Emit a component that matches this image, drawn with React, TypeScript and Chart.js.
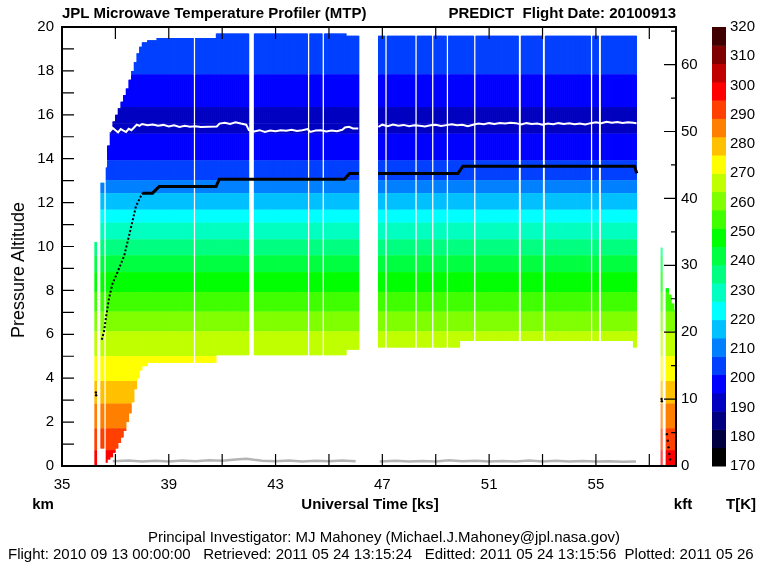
import React, { useEffect, useRef } from "react";
import { Chart, registerables } from "chart.js";

Chart.register(...registerables);

const FONT = "'Liberation Sans', Arial, Helvetica, sans-serif";

// ---- axes ----
const TIME_MIN = 35;
const TIME_MAX = 58;
const ALT_MIN = 0;
const ALT_MAX = 20;
const KM_PER_KFT = 0.3048;
const T_MIN = 170;
const T_MAX = 320;

const X_TICK_LABELS = [35, 39, 43, 47, 51, 55];
const X_TICK_MARKS = [37, 39, 41, 43, 45, 47, 49, 51, 53, 55, 57];
const KM_TICK_LABELS = [0, 2, 4, 6, 8, 10, 12, 14, 16, 18, 20];
const KM_TICK_MARKS = [1, 2, 3, 4, 5, 6, 7, 8, 9, 10, 11, 12, 13, 14, 15, 16, 17, 18, 19];
const KFT_TICK_LABELS = [0, 10, 20, 30, 40, 50, 60];
const KFT_TICK_MARKS = [5, 10, 15, 20, 25, 30, 35, 40, 45, 50, 55, 60, 65];
const T_TICK_LABELS = [170, 180, 190, 200, 210, 220, 230, 240, 250, 260, 270, 280, 290, 300, 310, 320];

// ---- colour scale (24 steps, 170 K .. 320 K) ----
const COLOR_STEPS = [
  "#000000", "#000040", "#000080", "#0000c0", "#0000ff", "#0040ff",
  "#0080ff", "#00c0ff", "#00ffff", "#00ffc0", "#00ff80", "#00ff40",
  "#00ff00", "#40ff00", "#80ff00", "#c0ff00", "#ffff00", "#ffc000",
  "#ff8000", "#ff4000", "#ff0000", "#c00000", "#800000", "#400000",
];

// ---- temperature profile: altitude [km] and temperature [K] ----
const PROFILE_ALT = [0, 0.72, 1.71, 2.84, 3.87, 5.0, 6.13, 7.03, 7.93, 8.83, 9.59, 10.32, 11.08, 11.67, 12.43, 13.02, 13.92, 15.14, 15.6, 16.35, 17.84, 20];
const PROFILE_T = [298, 295, 288.75, 282.5, 276.25, 270, 263.75, 257.5, 251.25, 245, 238.75, 232.5, 226.25, 220, 213.75, 207.5, 201.25, 195, 192.5, 195, 201.25, 204];

// ---- retrieval coverage: [start ks, end ks, bottom km, top km, pale] ----
const COVERAGE: [number, number, number, number, number][] = [
  [36.23, 36.31, 0.0, 10.2, 0],
  [36.46, 36.57, 0.8, 12.9, 0],
  [36.64, 36.70, 0.15, 13.6, 0],
  [36.70, 36.80, 0.3, 14.6, 0],
  [36.80, 36.90, 0.4, 15.3, 0],
  [36.90, 37.00, 0.6, 15.7, 0],
  [37.00, 37.10, 0.8, 16.0, 0],
  [37.10, 37.20, 1.05, 16.3, 0],
  [37.20, 37.30, 1.3, 16.6, 0],
  [37.30, 37.40, 1.6, 16.9, 0],
  [37.40, 37.50, 2.0, 17.2, 0],
  [37.50, 37.60, 2.4, 17.6, 0],
  [37.60, 37.70, 2.9, 18.0, 0],
  [37.70, 37.80, 3.5, 18.4, 0],
  [37.80, 37.90, 4.0, 18.8, 0],
  [37.90, 38.00, 4.35, 19.1, 0],
  [38.00, 38.20, 4.55, 19.3, 0],
  [38.20, 38.55, 4.7, 19.4, 0],
  [38.55, 40.77, 4.7, 19.5, 0],
  [40.77, 41.99, 5.05, 19.7, 0],
  [42.20, 45.65, 5.05, 19.7, 0],
  [45.65, 46.13, 5.3, 19.6, 0],
  [46.85, 49.90, 5.4, 19.6, 0],
  [49.90, 56.40, 5.7, 19.6, 0],
  [56.40, 56.53, 5.4, 19.6, 0],
  [57.43, 57.50, 0.0, 9.95, 1],
  [57.62, 57.72, 0.0, 8.1, 0],
  [57.72, 57.82, 0.0, 7.8, 0],
  [57.82, 57.92, 0.0, 7.4, 0],
  [57.92, 58.00, 0.0, 7.1, 0],
];

// ---- short data gaps [start ks, end ks] ----
const GAPS: [number, number][] = [
  [39.92, 39.99], [44.20, 44.28], [44.74, 44.82], [47.09, 47.17],
  [48.23, 48.31], [48.85, 48.93], [49.40, 49.48], [50.43, 50.51],
  [52.11, 52.19], [53.01, 53.09], [54.79, 54.87], [55.11, 55.19],
];

// ---- aircraft pressure altitude [ks, km] ----
const AIRCRAFT_ALT: [number, number | null][] = [
  [36.49, 5.75], [36.58, 6.16], [36.64, 6.7], [36.76, 7.63], [36.89, 8.3],
  [37.08, 8.83], [37.33, 9.58], [37.51, 10.48], [37.77, 11.83], [38.01, 12.43],
  [38.39, 12.43], [38.64, 12.73], [40.77, 12.73], [40.89, 13.06], [45.58, 13.06],
  [45.77, 13.33], [46.12, 13.33], [46.5, null], [46.84, 13.33], [49.83, 13.33],
  [50.02, 13.66], [56.45, 13.66], [56.53, 13.33],
];
const AIRCRAFT_EXTRA: [number, number][] = [
  [36.27, 3.35], [36.28, 3.22], [57.46, 3.05], [57.47, 2.95],
  [57.66, 1.45], [57.69, 1.15], [57.72, 0.85], [57.75, 0.55], [57.78, 0.3],
];

// ---- tropopause altitude [ks, km] ----
const TROPOPAUSE: [number, number | null][] = [
  [36.70, 15.35], [36.80, 15.25], [36.90, 15.40], [37.00, 15.30], [37.10, 15.20],
  [37.20, 15.35], [37.30, 15.28], [37.40, 15.22], [37.50, 15.36], [37.60, 15.30],
  [37.70, 15.42], [37.80, 15.55], [37.90, 15.50], [38.00, 15.58], [38.20, 15.52],
  [38.40, 15.56], [38.60, 15.50], [38.80, 15.54], [39.00, 15.47], [39.20, 15.52],
  [39.40, 15.45], [39.60, 15.50], [39.80, 15.46], [40.00, 15.48], [40.20, 15.44],
  [40.50, 15.46], [40.80, 15.47], [40.90, 15.60], [41.10, 15.64], [41.30, 15.58],
  [41.50, 15.66], [41.70, 15.60], [41.90, 15.55], [42.00, 15.30], [42.20, 15.24],
  [42.40, 15.30], [42.60, 15.22], [42.80, 15.28], [43.00, 15.25], [43.20, 15.30],
  [43.40, 15.27], [43.60, 15.32], [43.80, 15.26], [44.00, 15.30], [44.20, 15.35],
  [44.30, 15.22], [44.50, 15.28], [44.70, 15.30], [44.90, 15.24], [45.10, 15.28],
  [45.30, 15.25], [45.50, 15.32], [45.60, 15.42], [45.75, 15.45], [45.90, 15.38],
  [46.10, 15.38], [46.50, null],
  [46.85, 15.45], [47.00, 15.55], [47.20, 15.48], [47.40, 15.56], [47.60, 15.50],
  [47.80, 15.54], [48.00, 15.48], [48.20, 15.52], [48.40, 15.50], [48.60, 15.47],
  [48.80, 15.52], [49.00, 15.55], [49.20, 15.49], [49.40, 15.53], [49.60, 15.57],
  [49.80, 15.52], [50.00, 15.55], [50.20, 15.48], [50.40, 15.55], [50.60, 15.60],
  [50.80, 15.57], [51.00, 15.62], [51.20, 15.58], [51.40, 15.63], [51.60, 15.60],
  [51.80, 15.64], [52.00, 15.62], [52.20, 15.56], [52.40, 15.62], [52.60, 15.58],
  [52.80, 15.60], [53.00, 15.55], [53.20, 15.60], [53.40, 15.57], [53.60, 15.62],
  [53.80, 15.58], [54.00, 15.61], [54.20, 15.57], [54.40, 15.60], [54.60, 15.56],
  [54.80, 15.62], [55.00, 15.66], [55.20, 15.62], [55.40, 15.68], [55.60, 15.64],
  [55.80, 15.67], [56.00, 15.63], [56.20, 15.66], [56.40, 15.64], [56.52, 15.62],
];

// ---- ground altitude [ks, km] ----
const GROUND_ALT: [number, number | null][] = [
  [36.90, 0.22], [37.50, 0.25], [38.00, 0.20], [38.50, 0.24], [39.00, 0.21],
  [39.50, 0.25], [40.00, 0.22], [40.50, 0.26], [41.00, 0.24], [41.50, 0.30],
  [41.90, 0.33], [42.20, 0.28], [42.50, 0.24], [43.00, 0.22], [43.50, 0.25],
  [44.00, 0.21], [44.50, 0.24], [45.00, 0.22], [45.50, 0.25], [46.00, 0.22],
  [46.40, null], [46.90, 0.20], [47.50, 0.24], [48.00, 0.20], [48.50, 0.23],
  [49.00, 0.20], [49.50, 0.26], [50.00, 0.22], [50.50, 0.24], [51.00, 0.20],
  [51.50, 0.23], [52.00, 0.21], [52.50, 0.25], [53.00, 0.20], [53.50, 0.24],
  [54.00, 0.21], [54.50, 0.23], [55.00, 0.20], [55.50, 0.22], [56.00, 0.19],
  [56.50, 0.20],
];

// ---- helpers ----
const COLUMN_STEP = 0.025; // ks per drawn column

function colorForT(t: number): string {
  const step = (T_MAX - T_MIN) / COLOR_STEPS.length;
  const k = Math.max(0, Math.min(COLOR_STEPS.length - 1, Math.floor((t - T_MIN) / step)));
  return COLOR_STEPS[k];
}

function paleOf(hex: string): string {
  const r = parseInt(hex.slice(1, 3), 16);
  const g = parseInt(hex.slice(3, 5), 16);
  const b = parseInt(hex.slice(5, 7), 16);
  return `rgba(${r},${g},${b},0.45)`;
}

function buildColumns() {
  const cols: { t: number; bottom: number; top: number; pale: boolean }[] = [];
  const n = Math.round((TIME_MAX - TIME_MIN) / COLUMN_STEP);
  for (let i = 0; i < n; i++) {
    const t = TIME_MIN + (i + 0.5) * COLUMN_STEP;
    const seg = COVERAGE.find((s) => t >= s[0] && t < s[1]);
    if (!seg) continue;
    if (GAPS.some((g) => t >= g[0] && t < g[1])) continue;
    cols.push({ t, bottom: seg[2], top: seg[3], pale: seg[4] === 1 });
  }
  return cols;
}

function toXY(arr: [number, number | null][]) {
  return arr.map(([x, y]) => ({ x, y }));
}

const framePlugin = {
  id: "mtpFrame",
  beforeDatasetsDraw(chart: any) {
    const ctx = chart.ctx;
    const s = chart.scales.yT;
    const step = (T_MAX - T_MIN) / COLOR_STEPS.length;
    ctx.save();
    COLOR_STEPS.forEach((c, k) => {
      const y0 = s.getPixelForValue(T_MIN + k * step);
      const y1 = s.getPixelForValue(T_MIN + (k + 1) * step);
      ctx.fillStyle = c;
      ctx.fillRect(s.left, y1, 14, y0 - y1 + 0.5);
    });
    ctx.restore();
  },
  afterDatasetsDraw(chart: any) {
    const { ctx, chartArea: a, scales } = chart;
    ctx.save();
    ctx.strokeStyle = "#000";
    ctx.lineWidth = 1.2;
    ctx.beginPath();
    for (const v of X_TICK_MARKS) {
      const x = scales.x.getPixelForValue(v);
      ctx.moveTo(x, a.bottom);
      ctx.lineTo(x, a.bottom - 12);
      ctx.moveTo(x, a.top);
      ctx.lineTo(x, a.top + 12);
    }
    for (const v of KM_TICK_MARKS) {
      const y = scales.y.getPixelForValue(v);
      ctx.moveTo(a.left, y);
      ctx.lineTo(a.left + 12, y);
    }
    for (const v of KFT_TICK_MARKS) {
      const y = scales.y2.getPixelForValue(v);
      const len = v % 10 === 0 ? 12 : 5;
      ctx.moveTo(a.right, y);
      ctx.lineTo(a.right - len, y);
    }
    ctx.stroke();
    ctx.lineWidth = 2;
    ctx.strokeRect(a.left, a.top, a.right - a.left, a.bottom - a.top);
    ctx.restore();
  },
};

function fixedTicks(values: number[]) {
  return (scale: any) => {
    scale.ticks = values.map((v) => ({ value: v }));
  };
}

export default function App() {
  const ref = useRef<HTMLCanvasElement>(null);

  useEffect(() => {
    const cols = buildColumns();
    const bandDatasets: any[] = [];
    for (let b = 0; b < PROFILE_ALT.length - 1; b++) {
      const lo = PROFILE_ALT[b];
      const hi = PROFILE_ALT[b + 1];
      const color = colorForT((PROFILE_T[b] + PROFILE_T[b + 1]) / 2);
      const pale = paleOf(color);
      const data: any[] = [];
      for (const c of cols) {
        const a = Math.max(lo, c.bottom);
        const z = Math.min(hi, c.top);
        if (z > a) data.push({ x: c.t, y: [a, z], pale: c.pale });
      }
      bandDatasets.push({
        type: "bar",
        data,
        backgroundColor: (ctx: any) => (ctx.raw && ctx.raw.pale ? pale : color),
        borderWidth: 0,
        barThickness: 1.4,
        inflateAmount: 0,
        order: 10,
        xAxisID: "x",
        yAxisID: "y",
      });
    }

    const lineDatasets: any[] = [
      {
        type: "line",
        data: toXY(AIRCRAFT_ALT),
        borderColor: "#000",
        borderWidth: 3,
        pointRadius: 0,
        spanGaps: false,
        tension: 0,
        order: 1,
        segment: {
          borderDash: (c: any) => (c.p1DataIndex <= 9 ? [2, 2] : undefined),
          borderWidth: (c: any) => (c.p1DataIndex <= 9 ? 2 : undefined),
        },
        xAxisID: "x",
        yAxisID: "y",
      },
      {
        type: "scatter",
        data: AIRCRAFT_EXTRA.map(([x, y]) => ({ x, y })),
        backgroundColor: "#000",
        borderColor: "#000",
        pointRadius: 1.2,
        borderWidth: 0,
        order: 1,
        xAxisID: "x",
        yAxisID: "y",
      },
      {
        type: "line",
        data: toXY(TROPOPAUSE),
        borderColor: "#ffffff",
        borderWidth: 2,
        pointRadius: 0,
        spanGaps: false,
        tension: 0,
        order: 2,
        xAxisID: "x",
        yAxisID: "y",
      },
      {
        type: "line",
        data: toXY(GROUND_ALT),
        borderColor: "#b4b4b4",
        borderWidth: 2.5,
        pointRadius: 0,
        spanGaps: false,
        tension: 0,
        order: 3,
        xAxisID: "x",
        yAxisID: "y",
      },
    ];

    const tickFont = { family: FONT, size: 15 };
    const chart = new Chart(ref.current as HTMLCanvasElement, {
      type: "bar",
      data: { datasets: [...lineDatasets, ...bandDatasets] },
      options: {
        animation: false,
        responsive: false,
        devicePixelRatio: 1,
        events: [],
        layout: { padding: { left: 0, right: 0, top: 23, bottom: 0 } },
        plugins: {
          legend: { display: false },
          tooltip: { enabled: false },
          title: { display: false },
        },
        scales: {
          x: {
            type: "linear",
            position: "bottom",
            min: TIME_MIN,
            max: TIME_MAX,
            offset: false,
            stacked: true,
            grid: { display: false, drawTicks: false },
            border: { display: false },
            ticks: { font: tickFont, color: "#000", padding: 10, maxRotation: 0, autoSkip: false },
            afterBuildTicks: fixedTicks(X_TICK_LABELS),
            afterFit: (s: any) => { s.height = 101; },
          },
          y: {
            type: "linear",
            position: "left",
            min: ALT_MIN,
            max: ALT_MAX,
            grid: { display: false, drawTicks: false },
            border: { display: false },
            ticks: { font: tickFont, color: "#000", padding: 8, autoSkip: false },
            afterBuildTicks: fixedTicks(KM_TICK_LABELS),
            afterFit: (s: any) => { s.width = 62; },
          },
          y2: {
            type: "linear",
            position: "right",
            weight: 0,
            min: ALT_MIN / KM_PER_KFT,
            max: ALT_MAX / KM_PER_KFT,
            grid: { display: false, drawTicks: false },
            border: { display: false },
            ticks: { font: tickFont, color: "#000", padding: 5, autoSkip: false },
            afterBuildTicks: fixedTicks(KFT_TICK_LABELS),
            afterFit: (s: any) => { s.width = 36; },
          },
          yT: {
            type: "linear",
            position: "right",
            weight: 1,
            min: T_MIN,
            max: T_MAX,
            grid: { display: false, drawTicks: false },
            border: { display: false },
            ticks: { font: tickFont, color: "#000", padding: 18, autoSkip: false },
            afterBuildTicks: fixedTicks(T_TICK_LABELS),
            afterFit: (s: any) => { s.width = 49; },
          },
        },
      } as any,
      plugins: [framePlugin],
    } as any);
    return () => chart.destroy();
  }, []);

  const txt = (extra: React.CSSProperties): React.CSSProperties => ({
    position: "absolute",
    fontFamily: FONT,
    fontSize: 15,
    lineHeight: "15px",
    color: "#000",
    whiteSpace: "pre",
    ...extra,
  });

  return (
    <div style={{ position: "absolute", left: 0, top: 0, width: 761, height: 567, overflow: "hidden", background: "#fff" }}>
      <canvas ref={ref} width={761} height={567} style={{ position: "absolute", left: 0, top: 0, width: 761, height: 567 }} />
      <div style={txt({ left: 62, top: 5, fontWeight: "bold" })}>JPL Microwave Temperature Profiler (MTP)</div>
      <div style={txt({ right: 761 - 676, top: 5, fontWeight: "bold" })}>{"PREDICT  Flight Date: 20100913"}</div>
      <div style={txt({ left: 18, top: 270, fontSize: 18, lineHeight: "18px", transform: "translate(-50%, -50%) rotate(-90deg)" })}>Pressure Altitude</div>
      <div style={txt({ left: 43, top: 496, fontWeight: "bold", transform: "translateX(-50%)" })}>km</div>
      <div style={txt({ left: 370, top: 496, fontWeight: "bold", transform: "translateX(-50%)" })}>Universal Time [ks]</div>
      <div style={txt({ left: 683, top: 496, fontWeight: "bold", transform: "translateX(-50%)" })}>kft</div>
      <div style={txt({ left: 741, top: 496, fontWeight: "bold", transform: "translateX(-50%)" })}>T[K]</div>
      <div style={txt({ left: 384, top: 529, transform: "translateX(-50%)" })}>Principal Investigator: MJ Mahoney (Michael.J.Mahoney@jpl.nasa.gov)</div>
      <div style={txt({ left: 8, top: 546 })}>{"Flight: 2010 09 13 00:00:00   Retrieved: 2011 05 24 13:15:24   Editted: 2011 05 24 13:15:56  Plotted: 2011 05 26"}</div>
    </div>
  );
}
